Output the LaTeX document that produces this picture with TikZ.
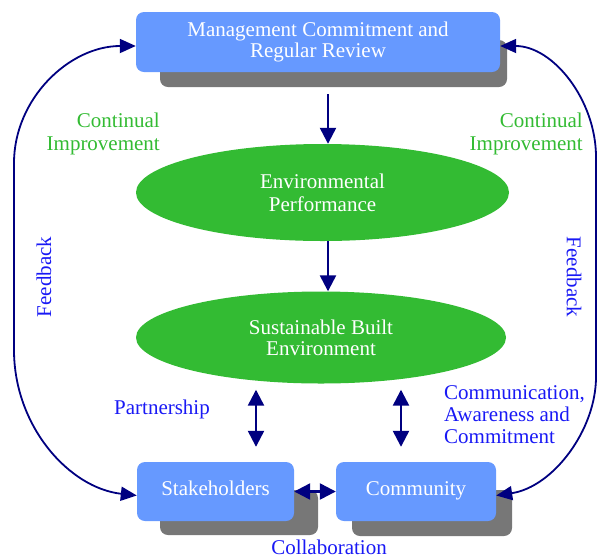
\documentclass[tikz,border=0pt]{standalone}
\usepackage{fontspec}
\setmainfont{Liberation Serif}
\usetikzlibrary{calc}
\usetikzlibrary{arrows.meta}
\usetikzlibrary{shapes.geometric}
\definecolor{boxblue}{RGB}{102,153,255}
\definecolor{backgray}{RGB}{119,119,119}
\definecolor{leafgreen}{RGB}{51,187,51}
\definecolor{navy}{RGB}{0,0,128}
\definecolor{textblue}{RGB}{25,25,245}
\newcommand{\diagfont}{\fontsize{21}{23}\selectfont}
\tikzset{
  box/.style = {fill=#1, rounded corners=8pt, text=white, align=center, inner sep=0pt},
  backing/.style = {fill=#1, rounded corners=8pt},
  blob/.style = {ellipse, fill=#1, text=white, align=center, inner sep=0pt},
  caption/.style = {color=#1, inner sep=0pt},
  vec/.style = {color=#1, line width=2.4pt, -{Triangle[length=16pt,width=16pt]}},
  vec2/.style = {color=#1, line width=2.4pt, {Triangle[length=16pt,width=16pt]}-{Triangle[length=16pt,width=16pt]}},
  loop vec/.style = {color=#1, line width=1.8pt, {Triangle[length=16pt,width=14pt]}-{Triangle[length=16pt,width=14pt]}}
}

\begin{document}
\begin{tikzpicture}[x=1pt, y=-1pt, font=\diagfont]

    \useasboundingbox (0,0) rectangle (597,558);

    % Shadows
    \fill[backing={backgray}] (160,40) rectangle (507,87);
    \fill[backing={backgray}] (160,490) rectangle (318,535);
    \fill[backing={backgray}] (352,490) rectangle (512,536);

    % Body
    \node[box={boxblue}, minimum width=364pt, minimum height=60pt, font={\fontsize{21}{18}\selectfont}] (mgmt) at (318,42) {Management Commitment and\\Regular Review};
    \node[blob={leafgreen}, minimum width=373pt, minimum height=97pt] (envperf) at (322.5,192.5) {Environmental\\Performance};
    \node[blob={leafgreen}, minimum width=370pt, minimum height=92pt, font={\fontsize{21}{21}\selectfont}] (sbe) at (321,337.5) {Sustainable Built\\ Environment};
    \node[box={boxblue}, minimum width=157pt, minimum height=59pt, text depth=6pt] (stake) at (215.5,491.5) {Stakeholders};
    \node[box={boxblue}, minimum width=160pt, minimum height=59pt, text depth=6pt] (comm) at (416,491.5) {Community};

    % Coordinates
    \coordinate (down) at (328,94);
    \coordinate (pa) at (256,0);
    \coordinate (ca) at (401,0);

    % Arrows
    \draw[vec={navy}] (down) -- (down |- envperf.north);
    \draw[vec={navy}] (down |- envperf.south) -- (down |- sbe.north);
    \draw[vec2={navy}, shorten <=6pt, shorten >=15pt] (pa |- sbe.south) -- (pa |- stake.north);
    \draw[vec2={navy}, shorten <=6pt, shorten >=15pt] (ca |- sbe.south) -- (ca |- comm.north);
    \draw[vec2={navy}] (stake.east) -- (comm.west);

    % Feedback loops
    \draw[loop vec={navy}] ([yshift=-4pt]mgmt.west) .. controls (69,46) and (14,99) .. (14,163)
        -- (14,350) .. controls (14,426) and (69,488) .. ([yshift=-4pt]stake.west);
    \draw[loop vec={navy}] ([yshift=-4pt]mgmt.east) .. controls (553,46) and (596,100) .. (596,157)
        -- (596,377) .. controls (596,430) and (553,487) .. ([yshift=-4pt]comm.east);

    % Labels
    \node[caption={leafgreen}, align=right, anchor=east] (contl) at (160,134) {Continual\\Improvement};
    \node[caption={leafgreen}, align=right, anchor=east] (contr) at (583,134) {Continual\\Improvement};
    \node[caption={textblue}, rotate=90] (feedl) at (44,277) {Feedback};
    \node[caption={textblue}, rotate=-90] (feedr) at (574,277) {Feedback};
    \node[caption={textblue}] (partner) at (162,409) {Partnership};
    \node[caption={textblue}, align=left, anchor=west, font={\fontsize{21}{22}\selectfont}] (commu) at (444,415) {Communication,\\Awareness and\\Commitment};
    \node[caption={textblue}] (collab) at (329,547) {Collaboration};

\end{tikzpicture}
\end{document}
